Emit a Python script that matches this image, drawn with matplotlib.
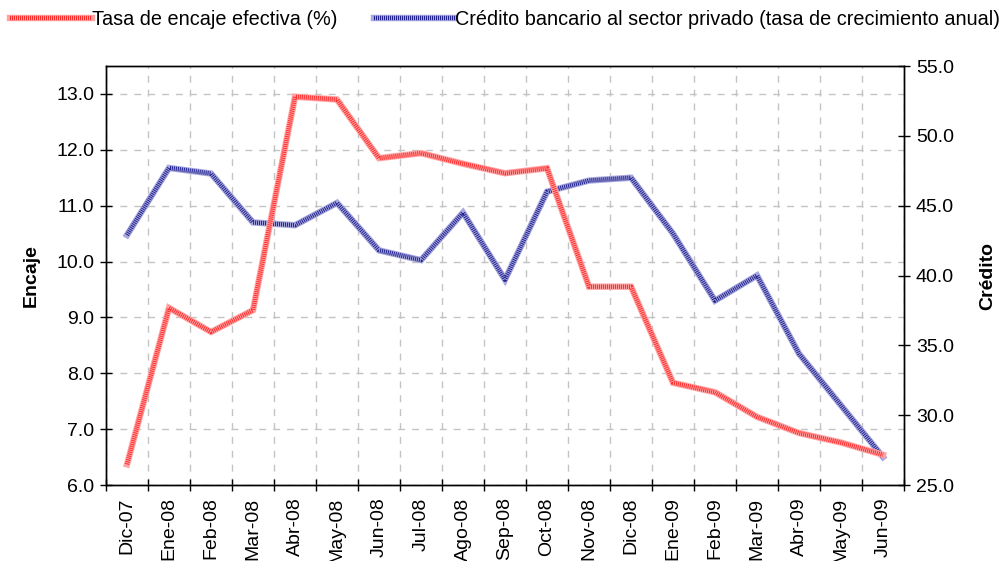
import matplotlib
matplotlib.use("Agg")
import matplotlib.pyplot as plt
from matplotlib.ticker import FixedLocator, FormatStrFormatter, NullFormatter
import numpy as np

plt.rcParams["font.family"] = ["Liberation Sans", "DejaVu Sans"]
plt.rcParams["font.size"] = 14
plt.rcParams["lines.scale_dashes"] = False

meses = ["Dic-07", "Ene-08", "Feb-08", "Mar-08", "Abr-08", "May-08", "Jun-08",
         "Jul-08", "Ago-08", "Sep-08", "Oct-08", "Nov-08", "Dic-08", "Ene-09",
         "Feb-09", "Mar-09", "Abr-09", "May-09", "Jun-09"]
encaje = [6.37, 9.17, 8.74, 9.13, 12.95, 12.90, 11.85, 11.94, 11.75, 11.58,
          11.67, 9.55, 9.55, 7.83, 7.66, 7.22, 6.93, 6.76, 6.54]
credito = [42.9, 47.7, 47.3, 43.8, 43.6, 45.2, 41.8, 41.1, 44.5, 39.7,
           46.0, 46.8, 47.0, 43.0, 38.2, 40.0, 34.4, 30.7, 27.0]

lbl_encaje = "Tasa de encaje efectiva (%)"
lbl_credito = "Crédito bancario al sector privado (tasa de crecimiento anual)"

x = np.arange(len(meses))

fig = plt.figure(figsize=(10.06, 5.61), dpi=100)
ax = fig.add_axes([106 / 1006, 1 - 485 / 561, 798 / 1006, 419 / 561])
ax2 = ax.twinx()

LW = 4.6
DASH = (0.72, 0.72)


def textured(axis, y, light, dark, transform):
    base, = axis.plot(x, y, color=light, lw=LW, solid_joinstyle="miter",
                      transform=transform, zorder=3)
    over, = axis.plot(x, y, color=dark, lw=LW - 1.4, dashes=DASH,
                      solid_joinstyle="miter", transform=transform, zorder=3)
    return base, over


# blue first, red on top (both on the twin so they sit above the grid)
h_cre = textured(ax2, credito, "#a8a8de", "#22228e", ax2.transData)
h_enc = textured(ax2, encaje, "#ffa3a3", "#ff2a2a", ax.transData)

ax.set_xlim(-0.5, len(meses) - 0.5)
ax.set_ylim(6, 13.5)
ax2.set_ylim(25, 55)

# category boundaries carry ticks and grid, centres carry labels
ax.xaxis.set_major_locator(FixedLocator(np.arange(-0.5, len(meses), 1.0)))
ax.xaxis.set_major_formatter(NullFormatter())
ax.xaxis.set_minor_locator(FixedLocator(x))
ax.set_xticklabels(meses, minor=True, rotation=90)
ax.tick_params(axis="x", which="minor", length=0, pad=9)
ax.tick_params(axis="x", which="major", direction="inout", length=9, width=1)

ax.set_yticks(np.arange(6, 13.01, 1.0))
ax.yaxis.set_major_formatter(FormatStrFormatter("%.1f"))
ax.tick_params(axis="y", direction="inout", length=9, width=1, pad=4)
ax2.set_yticks(np.arange(25, 55.01, 5.0))
ax2.yaxis.set_major_formatter(FormatStrFormatter("%.1f"))
ax2.tick_params(axis="y", direction="inout", length=9, width=1, pad=4)

ax.grid(True, axis="both", which="major", color="#c4c4c4", lw=1,
        dashes=(5, 5))
ax.set_axisbelow(True)

for a in (ax, ax2):
    for sp in a.spines.values():
        sp.set_color("black")
        sp.set_linewidth(1)

ax.set_ylabel("Encaje", fontweight="bold", labelpad=12)
ax2.set_ylabel("Crédito", fontweight="bold", labelpad=18)

fig.legend([h_enc, h_cre], [lbl_encaje, lbl_credito], loc="upper left",
           bbox_to_anchor=(0.0, 1.0), ncol=2, frameon=False,
           handlelength=4.1, handletextpad=0.0, columnspacing=1.85,
           borderaxespad=0.12, fontsize=14.3)

fig.savefig("out.png", dpi=100)
